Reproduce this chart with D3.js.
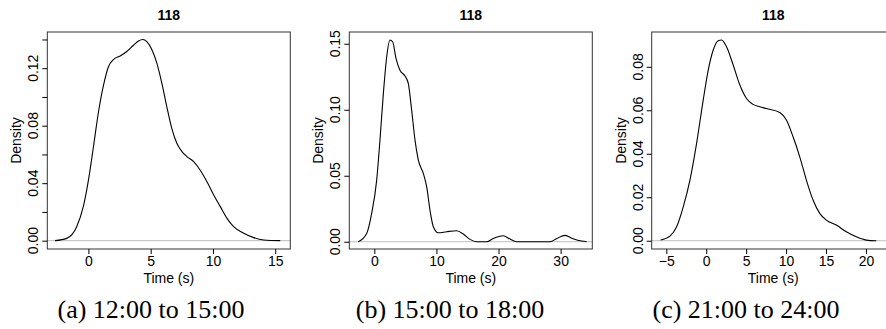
<!DOCTYPE html>
<html>
<head>
<meta charset="utf-8">
<script src="https://cdn.jsdelivr.net/npm/d3@7"></script>
<style>
  body { margin: 0; background: #fff; }
  svg { display: block; }
</style>
</head>
<body>
<svg id="chart" width="886" height="329"></svg>
<script>
// values
const titles = ['118', '118', '118'];
const captions = ['(a) 12:00 to 15:00', '(b) 15:00 to 18:00', '(c) 21:00 to 24:00'];

const timeA = [-2.68, -1.74, -0.94, -0.40, 0, 0.40, 0.80, 1.21, 1.61, 2.01, 2.55, 3.08, 3.62, 4.02, 4.37, 4.69, 5.09, 5.50, 5.90, 6.30, 6.70, 7.10, 7.51, 7.91, 8.45, 8.98, 9.52, 10.05, 10.59, 11.13, 11.66, 12.47, 13.27, 14.08, 15.4];
const densA = [0, 0.0016, 0.0097, 0.024, 0.042, 0.065, 0.089, 0.108, 0.121, 0.126, 0.1285, 0.1316, 0.136, 0.139, 0.140, 0.1385, 0.133, 0.1234, 0.1095, 0.093, 0.078, 0.0678, 0.062, 0.0585, 0.055, 0.049, 0.041, 0.032, 0.0237, 0.0155, 0.0097, 0.0051, 0.0021, 0.0005, 0];

const timeB = [-2.58, -1.23, -0.43, 0.38, 0.91, 1.45, 1.99, 2.52, 2.95, 3.49, 4.13, 4.94, 5.47, 6.01, 6.55, 7.09, 7.89, 8.43, 8.96, 9.50, 10.31, 11.65, 13.26, 14.33, 15.4, 16.5, 18.1, 19.16, 20.77, 21.85, 22.9, 28.3, 29.4, 30.7, 32.0, 33.4, 34.2];
const densB = [0, 0.0063, 0.0215, 0.0467, 0.077, 0.112, 0.140, 0.1528, 0.1515, 0.139, 0.130, 0.1255, 0.120, 0.0997, 0.077, 0.0619, 0.0518, 0.0417, 0.024, 0.0114, 0.0068, 0.0076, 0.0083, 0.0058, 0.0018, 0, 0, 0.0025, 0.0045, 0.002, 0, 0, 0.0025, 0.0048, 0.0023, 0.0005, 0];

const timeC = [-5.71, -4.54, -3.71, -2.88, -2.04, -1.21, -0.38, 0.25, 0.875, 1.5, 1.92, 2.54, 3.375, 4.21, 5.04, 5.875, 6.71, 7.54, 9.21, 10.04, 10.875, 11.71, 12.54, 13.375, 14.21, 15.04, 16.29, 17.54, 18.79, 20.04, 21.29];
const densC = [0.0003, 0.0021, 0.0064, 0.0156, 0.0279, 0.0448, 0.0647, 0.0785, 0.0877, 0.092, 0.0923, 0.0892, 0.0808, 0.0716, 0.0654, 0.0627, 0.0616, 0.0608, 0.059, 0.0555, 0.0478, 0.0386, 0.0279, 0.0187, 0.0126, 0.0095, 0.0072, 0.0041, 0.0018, 0.0003, 0];

const xTicksA = [0, 5, 10, 15];
const xTicksB = [0, 10, 20, 30];
const xTicksC = [-5, 0, 5, 10, 15, 20];
const yTicksA = [0, 0.02, 0.04, 0.06, 0.08, 0.10, 0.12, 0.14];
const yLabelsA = [0, 0.04, 0.08, 0.12];
const yTicksB = [0, 0.05, 0.10, 0.15];
const yTicksC = [0, 0.02, 0.04, 0.06, 0.08];

const panels = [
    { t: timeA, d: densA, xt: xTicksA, yt: yTicksA, yl: yLabelsA, xlim: [-3.30, 16.21], ylim: [-0.0058, 0.1452], left: 47.3, cap: 151 },
    { t: timeB, d: densB, xt: xTicksB, yt: yTicksB, yl: yTicksB, xlim: [-4.03, 35.1], ylim: [-0.0055, 0.1589], left: 349.3, cap: 450 },
    { t: timeC, d: densC, xt: xTicksC, yt: yTicksC, yl: yTicksC, xlim: [-6.83, 23.6], ylim: [-0.0038, 0.0960], left: 651.7, cap: 746 },
];

const boxW = 243, boxTop = 32, boxBottom = 249;
const sans = 'Liberation Sans, Arial, Helvetica, sans-serif';
const fs = 14;
const svg = d3.select('#chart');

panels.forEach((p, i) => {
    const x = d3.scaleLinear().domain(p.xlim).range([p.left, p.left + boxW]);
    const y = d3.scaleLinear().domain(p.ylim).range([boxBottom, boxTop]);
    const g = svg.append('g');

    // zero line
    g.append('line')
        .attr('x1', p.left).attr('x2', p.left + boxW)
        .attr('y1', y(0)).attr('y2', y(0))
        .attr('stroke', '#bdbdbd').attr('stroke-width', 1);

    const line = d3.line()
        .x((v, k) => x(p.t[k]))
        .y(v => y(v))
        .curve(d3.curveMonotoneX);

    g.append('path')
        .datum(p.d)
        .attr('d', line)
        .attr('fill', 'none')
        .attr('stroke', '#000')
        .attr('stroke-width', 1.1);

    g.append('rect')
        .attr('x', p.left).attr('y', boxTop)
        .attr('width', boxW).attr('height', boxBottom - boxTop)
        .attr('fill', 'none').attr('stroke', '#333').attr('stroke-width', 1);

    // x axis
    const xa = g.append('g')
        .attr('transform', `translate(0,${boxBottom})`)
        .call(d3.axisBottom(x).tickValues(p.xt).tickSize(5).tickPadding(2)
            .tickFormat(v => v < 0 ? '\u2212' + Math.abs(v) : String(v)));
    xa.select('.domain').remove();
    xa.selectAll('text').attr('font-family', sans).attr('font-size', fs).attr('fill', '#000');

    // y axis
    const ya = g.append('g')
        .attr('transform', `translate(${p.left},0)`)
        .call(d3.axisLeft(y).tickValues(p.yt).tickSize(5).tickFormat(''));
    ya.select('.domain').remove();

    g.selectAll('.ylab')
        .data(p.yl)
        .enter()
        .append('text')
        .attr('class', 'ylab')
        .attr('transform', v => `translate(${p.left - 9},${y(v)}) rotate(-90)`)
        .attr('text-anchor', 'middle')
        .attr('font-family', sans).attr('font-size', fs)
        .text(v => v.toFixed(2));

    g.append('text')
        .attr('transform', `translate(${p.left - 26},${(boxTop + boxBottom) / 2}) rotate(-90)`)
        .attr('text-anchor', 'middle')
        .attr('font-family', sans).attr('font-size', fs)
        .text('Density');

    g.append('text')
        .attr('x', p.left + boxW / 2).attr('y', 283)
        .attr('text-anchor', 'middle')
        .attr('font-family', sans).attr('font-size', fs)
        .text('Time (s)');

    g.append('text')
        .attr('x', p.left + boxW / 2).attr('y', 20)
        .attr('text-anchor', 'middle')
        .attr('font-family', sans).attr('font-size', fs).attr('font-weight', 'bold')
        .text(titles[i]);

    g.append('text')
        .attr('x', p.cap).attr('y', 318)
        .attr('text-anchor', 'middle')
        .attr('font-family', 'Liberation Serif, Times New Roman, serif').attr('font-size', 26)
        .text(captions[i]);
});
</script>
</body>
</html>
